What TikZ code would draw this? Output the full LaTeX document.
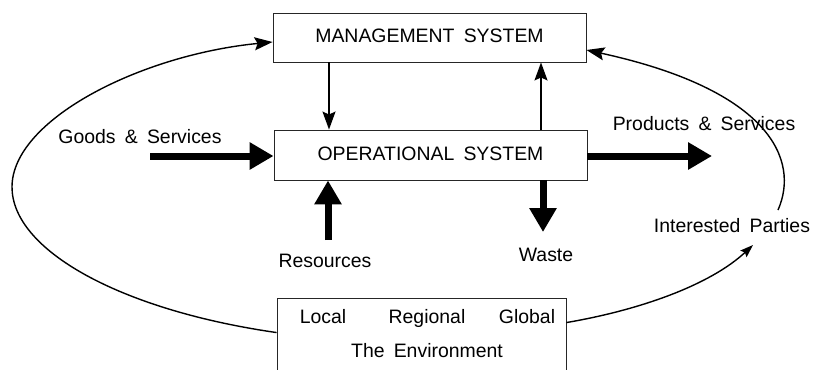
\documentclass[tikz,border=0pt]{standalone}
\usepackage{fontspec}
\setmainfont{Liberation Sans}[WordSpace=1.7]
\usetikzlibrary{arrows.meta,calc}
\tikzset{
  sysbox/.style={draw=black!85,line width=0.9bp,minimum width=313bp,minimum height=49bp,inner sep=0pt},
  lbl/.style={inner sep=0pt,text height=14bp,text depth=4bp,font=\fontsize{19.5}{23}\selectfont},
  thinarrow/.style={line width=1.6bp,-{Stealth[length=18bp,width=13bp,inset=3bp]}},
  thickarrow/.style={line width=7bp,-{Triangle[length=24bp,width=26bp]}},
  curve/.style={line width=1.4bp},
}
\begin{document}
\begin{tikzpicture}[x=1bp,y=-1bp]
\useasboundingbox (0,0) rectangle (814,369);
\clip (0,0) rectangle (814,369);
% boxes
\node[sysbox,lbl] (mgmt) at (429.5,37.5) {MANAGEMENT SYSTEM};
\node[sysbox,lbl,minimum height=50bp] (ops) at (430.5,155) {OPERATIONAL SYSTEM};
\node[draw=black!85,line width=0.9bp,minimum width=289bp,minimum height=90bp,inner sep=0pt] (env) at (421.5,343) {};
\node[lbl] (local) at (323,318) {Local};
\node[lbl] (regional) at (427,318) {Regional};
\node[lbl] (global) at (527,318) {Global};
\node[lbl] (theenv) at (427,352) {The Environment};
% labels
\node[lbl] (goods) at (140,138) {Goods \& Services};
\node[lbl] (products) at (704,125) {Products \& Services};
\node[lbl] (resources) at (325,262) {Resources};
\node[lbl] (waste) at (546,256) {Waste};
\node[lbl] (ip) at (732,227) {Interested Parties};
% helper coordinates
\coordinate (c1) at (329,0);
\coordinate (c2) at (541,0);
\coordinate (gs) at (150,156);
\coordinate (ps) at (712,156);
\coordinate (rs) at (328,240);
\coordinate (ws) at (543,232);
\coordinate (ipTop) at (778,210);
\coordinate (ipBot) at (753,245);
\coordinate (envL) at ([yshift=-35bp]env.north west);
\coordinate (envR) at ([yshift=-25bp]env.north east);
% vertical thin arrows
\draw[thinarrow] (mgmt.south -| c1) -- (ops.north -| c1);
\draw[thinarrow] (ops.north -| c2) -- (mgmt.south -| c2);
% thick arrows
\draw[thickarrow] (gs) -- (gs -| ops.west);
\draw[thickarrow] (ops.east |- ps) -- (ps);
\draw[thickarrow] (rs) -- (rs |- ops.south);
\draw[thickarrow] (ops.south -| ws) -- (ws);
% curves
\draw[curve,-{Stealth[length=18bp,width=13bp,inset=3bp]}] (envL) .. controls (120,310) and (12,250) .. (12,187)
  .. controls (12,120) and (140,55) .. ([yshift=-4.5bp]mgmt.west);
\draw[curve,-{Stealth[length=18bp,width=13bp,inset=3bp]}] (ipTop) .. controls (800,160) and (770,90) .. ([yshift=-12.5bp]mgmt.east);
\draw[curve,-{Stealth[length=13bp,width=9bp,inset=2bp]}] (envR) .. controls (640,310) and (710,285) .. (ipBot);
\end{tikzpicture}
\end{document}
